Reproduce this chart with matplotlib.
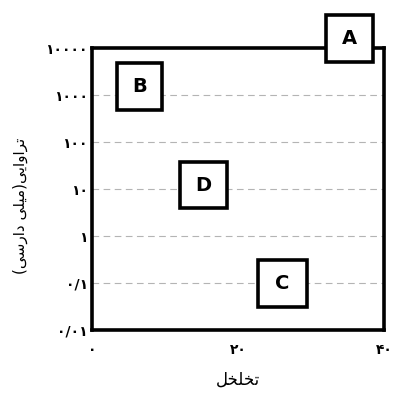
import matplotlib
matplotlib.use('Agg')
import matplotlib.pyplot as plt
from matplotlib.patches import Rectangle

# داده ها: محدوده تخلخل و تراوایی برای هر گروه
groups = ['A', 'B', 'C', 'D']
poro_min = [32.1, 3.4, 22.7, 12.1]
poro_max = [38.5, 9.6, 29.5, 18.5]
perm_min = [5000, 480, 0.031, 4.0]
perm_max = [50000, 4790, 0.31, 37]

y_ticks = [0.01, 0.1, 1, 10, 100, 1000, 10000]
y_labels = ['۰/۰۱', '۰/۱', '۱', '۱۰', '۱۰۰', '۱۰۰۰', '۱۰۰۰۰']
x_ticks = [0, 20, 40]
x_labels = ['۰', '۲۰', '۴۰']

# متن فارسی به شکل حروف چسبیده و ترتیب دیداری (matplotlib خودش شکل نمی دهد)
xlabel_txt = '\uFEDE\uFEA8\uFEE0\uFEA8\uFE97'  # تخلخل
ylabel_txt = ('(' + '\uFEF0\uFEB3\uFEAD\uFE8D\uFEA9' + ' ' + '\uFEF0\uFEE0\uFEF4\uFEE3' + ')'
              + '\uFEF0\uFEF3\uFE8D\uFEED\uFE8D\uFEAE\uFE97')  # تراوایی(میلی دارسی)

plt.rcParams['font.family'] = ['DejaVu Sans']

fig = plt.figure(figsize=(3.95, 3.94), dpi=100)
ax = fig.add_axes([0.233, 0.162, 0.739, 0.716])
ax.set_yscale('log')
ax.set_xlim(0, 40)
ax.set_ylim(0.01, 10000)

for s in ax.spines.values():
    s.set_linewidth(2.6)
    s.set_color('black')

ax.set_yticks(y_ticks)
ax.set_yticklabels(y_labels, fontsize=10, fontweight='bold')
ax.minorticks_off()
ax.set_xticks(x_ticks)
ax.set_xticklabels(x_labels, fontsize=10, fontweight='bold')
ax.tick_params(axis='both', length=0)
ax.tick_params(axis='y', pad=3)
ax.tick_params(axis='x', pad=9)

for v in y_ticks[1:-1]:
    ax.axhline(v, color='#b4b4b4', lw=0.8, ls=(0, (6, 4)), zorder=1)

for g, x0, x1, y0, y1 in zip(groups, poro_min, poro_max, perm_min, perm_max):
    r = Rectangle((x0, y0), x1 - x0, y1 - y0, facecolor='white', edgecolor='black',
                  lw=2.6, zorder=5, clip_on=False)
    ax.add_patch(r)
    ax.text((x0 + x1) / 2, (y0 * y1) ** 0.5, g, ha='center', va='center',
            fontsize=14, fontweight='bold', zorder=6, clip_on=False)

ax.set_xlabel(xlabel_txt, fontsize=12, labelpad=10)
ax.set_ylabel(ylabel_txt, fontsize=11)
ax.yaxis.set_label_coords(-0.22, 0.44)

plt.savefig('out.png', dpi=100)
